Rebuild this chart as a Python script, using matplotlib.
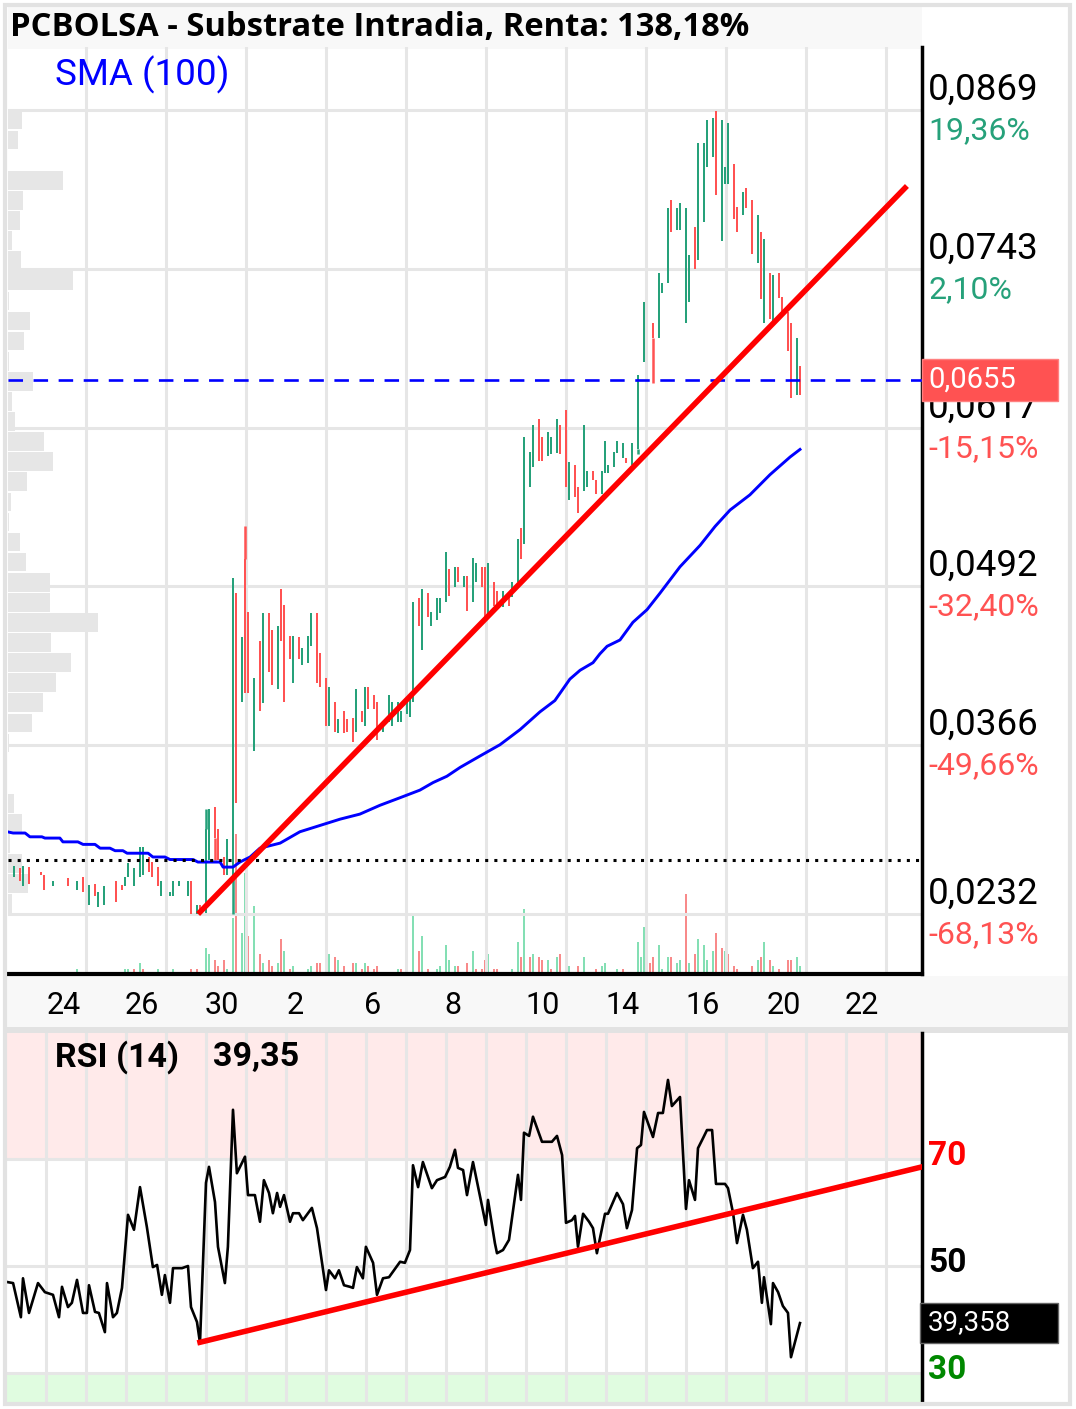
import numpy as np
import matplotlib.pyplot as plt
from matplotlib.patches import Rectangle
from matplotlib.transforms import IdentityTransform

plt.rcParams['font.family'] = ['Roboto', 'DejaVu Sans']

# ---- candles (slot = intraday bar number) ----
cs = [0, 2, 3, 5, 9, 10, 13, 18, 21, 23,
      25, 27, 28, 30, 34, 36, 37, 38, 40, 42,
      43, 45, 46, 48, 49, 52, 53, 55, 58, 59,
      61, 62, 64, 65, 67, 68, 70, 71, 73, 74,
      76, 77, 78, 80, 82, 83, 85, 86, 88, 89,
      90, 92, 93, 95, 96, 98, 99, 101, 102, 104,
      105, 107, 108, 110, 111, 113, 114, 116, 117, 118,
      120, 121, 123, 125, 126, 128, 129, 131, 132, 133,
      135, 136, 138, 139, 141, 142, 144, 145, 147, 148,
      150, 151, 153, 154, 156, 157, 158, 160, 161, 163,
      165, 166, 168, 169, 170, 172, 173, 175, 176, 178,
      179, 181, 182, 184, 185, 187, 188, 190, 191, 193,
      194, 196, 197, 198, 200, 201, 203, 204, 206, 208,
      210, 213, 215, 216, 218, 219, 221, 222, 224, 225,
      227, 228, 230, 231, 233, 234, 236, 237, 238, 240,
      241, 243, 244, 246, 248, 249, 250, 252, 253, 255,
      256, 258, 259, 261, 262]
co = [.0261, .0268, .0254, .0269, .0265, .0263, .0254, .0260, .0251, .0261,
      .0239, .0256, .0237, .0239, .0258, .0255, .0254, .0261, .0254, .0261,
      .0263, .0277, .0273, .0269, .0246, .0246, .0246, .0254, .0246, .0258,
      .0232, .0239, .0233, .0275, .0317, .0299, .0277, .0263, .0260, .0486,
      .0400, .0513, .0471, .0361, .0448, .0399, .0470, .0457, .0410, .0489,
      .0477, .0452, .0415, .0451, .0429, .0431, .0444, .0470, .0439, .0419,
      .0381, .0400, .0375, .0393, .0386, .0387, .0376, .0393, .0381, .0412,
      .0405, .0400, .0376, .0384, .0381, .0384, .0384, .0390, .0388, .0400,
      .0482, .0441, .0486, .0460, .0465, .0470, .0479, .0505, .0491, .0507,
      .0491, .0500, .0479, .0495, .0507, .0507, .0469, .0495, .0488, .0475,
      .0486, .0483, .0495, .0538, .0525, .0570, .0586, .0624, .0610, .0595,
      .0596, .0597, .0619, .0631, .0560, .0588, .0570, .0567, .0570, .0583,
      .0576, .0565, .0581, .0581, .0586, .0597, .0593, .0593, .0588, .0600,
      .0669, .0700, .0688, .0724, .0732, .0798, .0774, .0774, .0700, .0717,
      .0776, .0750, .0780, .0824, .0832, .0868, .0765, .0810, .0810, .0826,
      .0792, .0786, .0807, .0798, .0748, .0772, .0700, .0740, .0700, .0740,
      .0721, .0709, .0700, .0643, .0666]
cc = [.0270, .0258, .0270, .0256, .0263, .0251, .0258, .0254, .0258, .0249,
      .0255, .0246, .0249, .0254, .0241, .0251, .0261, .0272, .0268, .0285,
      .0285, .0265, .0261, .0254, .0258, .0249, .0258, .0258, .0258, .0232,
      .0239, .0232, .0299, .0315, .0292, .0275, .0263, .0291, .0498, .0320,
      .0451, .0407, .0407, .0419, .0393, .0470, .0424, .0413, .0460, .0448,
      .0400, .0434, .0452, .0434, .0443, .0452, .0470, .0415, .0412, .0381,
      .0412, .0376, .0386, .0375, .0376, .0368, .0410, .0384, .0412, .0394,
      .0394, .0370, .0380, .0405, .0400, .0400, .0393, .0400, .0405, .0479,
      .0460, .0489, .0467, .0471, .0482, .0482, .0519, .0484, .0507, .0495,
      .0500, .0472, .0514, .0510, .0491, .0467, .0510, .0476, .0476, .0488,
      .0476, .0495, .0529, .0513, .0610, .0598, .0619, .0591, .0591, .0614,
      .0610, .0624, .0596, .0570, .0590, .0562, .0550, .0619, .0583, .0576,
      .0565, .0583, .0607, .0588, .0598, .0607, .0605, .0589, .0605, .0659,
      .0717, .0688, .0740, .0732, .0791, .0772, .0791, .0795, .0791, .0754,
      .0743, .0843, .0843, .0861, .0863, .0802, .0861, .0824, .0859, .0783,
      .0772, .0804, .0791, .0755, .0786, .0719, .0767, .0703, .0738, .0720,
      .0708, .0678, .0641, .0688, .0643]
wick_hi = {64: .0315, 77: .0539}
wick_lo = {67: .0275, 73: .0232, 208: .0596, 213: .0653}

# ---- volume ----
vol_t = [21, 37, 38, 40, 42, 43, 48, 53, 59, 61,
         64, 65, 67, 68, 70, 71, 73, 74, 76, 77,
         78, 80, 82, 83, 85, 86, 88, 89, 90, 92,
         93, 98, 99, 101, 102, 104, 105, 107, 108, 110,
         113, 114, 116, 117, 118, 120, 121, 128, 129, 131,
         133, 135, 136, 138, 141, 142, 144, 145, 147, 148,
         151, 153, 154, 156, 157, 158, 160, 161, 166, 168,
         169, 170, 172, 173, 175, 176, 178, 179, 181, 182,
         184, 185, 188, 190, 194, 196, 197, 201, 203, 208,
         209, 210, 212, 213, 215, 216, 218, 219, 221, 222,
         224, 225, 227, 228, 230, 231, 233, 234, 236, 237,
         238, 240, 241, 246, 248, 249, 250, 252, 253, 255,
         258, 259, 261, 262]
vol_v = [5, 5, 5, 5, 11, 5, 5, 5, 5, 5,
         26, 20, 14, 8, 14, 5, 56, 140, 41, 101,
         38, 68, 20, 11, 14, 8, 11, 35, 23, 5,
         8, 5, 8, 11, 11, 20, 20, 17, 14, 8,
         11, 11, 5, 11, 8, 5, 8, 5, 5, 5,
         59, 23, 38, 5, 5, 8, 29, 14, 8, 8,
         11, 23, 5, 5, 14, 20, 5, 5, 5, 32,
         17, 65, 17, 20, 17, 14, 14, 5, 17, 20,
         35, 8, 8, 17, 5, 8, 11, 5, 5, 32,
         17, 47, 11, 17, 29, 5, 17, 17, 11, 14,
         80, 11, 20, 35, 29, 14, 23, 41, 26, 23,
         20, 8, 5, 8, 14, 17, 32, 14, 8, 5,
         14, 14, 17, 8]
vol_up = [1, 1, 1, 0, 1, 0, 1, 1, 0, 0,
          1, 1, 0, 0, 0, 1, 1, 0, 1, 1,
          0, 1, 0, 1, 0, 0, 1, 0, 1, 0,
          1, 1, 1, 0, 0, 0, 1, 0, 1, 0,
          0, 1, 0, 1, 0, 0, 0, 1, 0, 1,
          1, 0, 1, 0, 1, 1, 1, 1, 1, 0,
          0, 1, 0, 0, 0, 1, 0, 0, 1, 1,
          0, 1, 0, 1, 0, 0, 1, 0, 1, 0,
          0, 1, 0, 1, 0, 1, 1, 1, 0, 1,
          1, 1, 0, 0, 1, 1, 1, 0, 1, 1,
          0, 1, 0, 1, 1, 1, 1, 0, 0, 1,
          0, 0, 0, 0, 1, 0, 1, 0, 1, 0,
          0, 0, 1, 1]

# ---- volume profile (40 price bins from top 0.0869 to bottom 0.0232) ----
prof_top, prof_bottom = 0.0869, 0.0232
prof_vol = [14, 10, 0, 55, 15, 12, 4, 13, 65, 1,
            22, 16, 1, 25, 4, 7, 36, 45, 19, 3,
            1, 12, 18, 42, 42, 90, 43, 63, 48, 35,
            24, 1, 0, 0, 6, 14, 2, 14, 20, 4]

# ---- SMA(100) ----
sma_t = [-2.3, -0.3, 3.7, 5.3, 9.3, 10.3, 15.3, 16.3, 21.3, 23, 27, 28.7, 32, 33.7, 36.3,
         37.7, 44.7, 46.3, 50.3, 52, 59.7, 61.3, 68.7, 69.7, 73, 75.3, 78.7, 82, 88.7,
         95.3, 102, 108.7, 115.3, 122, 128.7, 135.3, 139.7, 144.3, 148.7, 155.3, 162,
         168.7, 175.3, 180.3, 185.3, 188.7, 193, 195.3, 197.7, 202, 206.3, 211, 215.3,
         222, 228.7, 233.7, 238.7, 245.3, 252, 258.7, 262]
sma_v = [.0297, .0296, .0296, .0293, .0293, .0292, .0292, .0289, .0289, .0287, .0287,
         .0284, .0284, .0282, .0282, .0280, .0280, .0277, .0277, .0275, .0275, .0273,
         .0273, .0269, .0269, .0273, .0277, .0284, .0288, .0297, .0302, .0307, .0311,
         .0318, .0324, .0330, .0336, .0341, .0348, .0357, .0366, .0378, .0392, .0401,
         .0418, .0425, .0431, .0438, .0444, .0449, .0463, .0473, .0486, .0507, .0524,
         .0539, .0552, .0564, .0580, .0594, .0600]

# ---- RSI(14) ----
rsi_t = [-2.3, -0.3, 2.3, 3, 5, 8, 10.3, 13, 15, 16, 18, 19.3, 21, 23, 24.3, 25, 27,
         28.3, 30.3, 31, 33, 34.3, 36, 38, 40, 42, 44.3, 46.3, 47.7, 49.3, 50.3, 52, 53,
         56, 58, 59, 61, 62, 64, 65, 67, 68, 70.3, 71.3, 73, 74.3, 77, 78, 80.3, 82,
         83.3, 85, 86.3, 87.7, 88.7, 90, 92, 93, 95, 96.3, 99.3, 101, 104, 105, 107,
         108.3, 110, 112, 113, 114.3, 116.3, 117.3, 119.7, 121, 123, 125, 128.7, 130.3,
         132, 133, 134.7, 136.3, 139.3, 141, 143.7, 145.3, 147, 148, 149.7, 151, 153,
         157.3, 158, 160.3, 161, 163, 165, 168, 169, 170, 171.7, 173, 176, 179.3, 181,
         182.7, 184, 186, 187, 188, 189.7, 191.7, 193, 194.3, 197, 198, 201, 203, 204.3,
         206, 207.7, 209, 210, 213, 214.7, 216.3, 218, 219.3, 222, 224, 225, 227, 228,
         229.7, 231, 232.7, 234, 237, 238, 239.7, 241, 243, 244.3, 246.3, 248, 249.3,
         250, 252.3, 253, 254.7, 256.3, 258, 259, 262]
rsi_v = [47.0, 46.8, 40.4, 47.7, 41.2, 46.8, 45.1, 44.6, 40.4, 46.1, 42.3, 43.1, 47.4,
         41.2, 41.2, 46.4, 41.4, 41.2, 37.6, 46.8, 40.4, 41.2, 45.9, 59.6, 56.8, 64.8,
         57.3, 49.8, 50.2, 44.6, 48.3, 43.1, 49.6, 49.6, 50.0, 42.3, 39.5, 35.6, 65.6,
         68.6, 62.0, 53.6, 46.8, 53.6, 79.3, 67.4, 70.5, 63.3, 63.3, 58.3, 66.1, 63.7,
         59.9, 63.7, 61.1, 63.3, 58.3, 59.9, 59.9, 58.6, 60.9, 57.1, 45.5, 49.2, 47.7,
         49.2, 46.4, 46.1, 45.9, 49.8, 47.7, 53.6, 50.6, 44.6, 47.7, 47.9, 50.8, 50.6,
         53.0, 68.9, 64.8, 69.5, 64.6, 66.1, 66.7, 68.6, 71.8, 68.4, 68.0, 63.3, 69.5,
         57.7, 62.4, 54.3, 52.4, 53.0, 54.9, 67.1, 62.4, 75.0, 74.4, 78.0, 73.3, 73.3,
         74.4, 70.8, 58.1, 58.6, 59.4, 53.6, 59.8, 58.3, 57.1, 52.4, 59.8, 59.8, 63.7,
         61.6, 57.1, 60.5, 72.1, 72.7, 78.9, 74.2, 78.7, 78.7, 84.9, 80.0, 81.7, 60.7,
         66.1, 62.4, 72.1, 74.0, 75.5, 75.5, 65.4, 65.4, 64.6, 59.9, 54.3, 59.6, 56.8,
         49.6, 50.8, 43.1, 47.9, 39.1, 46.8, 45.1, 42.5, 41.2, 32.9, 39.3]
rsi_last = 39.358

# ---- drawn lines / levels ----
trend_t, trend_p = [62, 297], [0.02334, 0.08072]
rsi_trend_t, rsi_trend_v = [62, 302.7], [35.7, 68.6]
last_price = 0.0655
support = 0.02746

price_ticks = [0.0869, 0.0743, 0.0617, 0.0492, 0.0366, 0.0232]
pct_labels = ['19,36%', '2,10%', '-15,15%', '-32,40%', '-49,66%', '-68,13%']
day_ticks = [16.7, 42.7, 69.3, 93.7, 119.7, 146.3, 176.3, 202.7, 229.7, 256.7, 282.7]
day_labels = ['24', '26', '30', '2', '6', '8', '10', '14', '16', '20', '22']

GREEN, RED = '#26a17a', '#ff5252'
VGREEN, VRED = '#84dfb4', '#f88a8a'
GRID = '#e6e6e6'

W, H = 1076, 1409
fig = plt.figure(figsize=(W / 100, H / 100), dpi=100)


def box(x0, y0, x1, y1):
    return [x0 / W, 1 - y1 / H, (x1 - x0) / W, (y1 - y0) / H]


def rect(x0, y0, x1, y1, **kw):
    fig.add_artist(Rectangle((x0 / W, 1 - y1 / H), (x1 - x0) / W, (y1 - y0) / H,
                             transform=fig.transFigure, **kw))


XL = (-2, 302.67)
YL = (0.018428, 0.091893)

# frame and bands (under the axes)
rect(8, 6, 922, 49, fc='#f8f8f8', ec='none', zorder=-2)
rect(6, 976, 1068, 1027, fc='#f8f8f8', ec='none', zorder=-2)
rect(6, 1027, 1068, 1033, fc='#e2e2e2', ec='none', zorder=-2)

# profile (back layer)
axp = fig.add_axes(box(8, 49, 922, 974), zorder=0)
axp.patch.set_visible(False)
edges = np.linspace(prof_top, prof_bottom, len(prof_vol) + 1)
centers = (edges[:-1] + edges[1:]) / 2
step = edges[0] - edges[1]
axp.barh(centers, prof_vol, height=step * 0.93, left=0, color='#e6e6e6', lw=0)
axp.set_xlim(0, 914)
axp.set_ylim(0.018428, 0.091893 - 2 * 0.00007925)
axp.axis('off')

# volume layer
axv = fig.add_axes(box(8, 47, 922, 974), zorder=1)
axv.patch.set_visible(False)
vcol = [VGREEN if u else VRED for u in vol_up]
axv.bar(vol_t, vol_v, width=0.85, color=vcol, lw=0)
axv.set_xlim(*XL)
axv.set_ylim(0, 927)
axv.axis('off')

# main price layer
ax = fig.add_axes(box(8, 47, 922, 974), zorder=2)
ax.patch.set_visible(False)
ax.set_xlim(*XL)
ax.set_ylim(*YL)
ax.set_xticks(np.arange(24, 303, 80 / 3))
ax.set_yticks(price_ticks)
ax.grid(True, color=GRID, lw=2.2, zorder=0)
ax.set_axisbelow(True)
ax.tick_params(length=0, labelleft=False, labelbottom=False)
for s in ['left', 'top']:
    ax.spines[s].set_visible(False)
ax.spines['right'].set_linewidth(2.5)
ax.spines['bottom'].set_linewidth(3)

co_a, cc_a = np.array(co), np.array(cc)
up = cc_a >= co_a
bottoms = np.minimum(co_a, cc_a)
heights = np.maximum(np.abs(cc_a - co_a), 0.00012)
ax.bar(cs, heights, bottom=bottoms, width=0.9,
       color=[GREEN if u else RED for u in up], lw=0, zorder=3)
for t, v in wick_hi.items():
    i = cs.index(t)
    ax.vlines(t, max(co[i], cc[i]), v, color=GREEN if up[i] else RED, lw=1.8, zorder=3)
for t, v in wick_lo.items():
    i = cs.index(t)
    ax.vlines(t, v, min(co[i], cc[i]), color=GREEN if up[i] else RED, lw=1.8, zorder=3)

ax.plot(sma_t, sma_v, color='#0000ff', lw=2.1, zorder=4)
ax.axhline(last_price, color='#0000ff', lw=1.9, dashes=(5.5, 4), zorder=4)
ax.axhline(support, color='black', lw=2.2, dashes=(1, 2), zorder=4)
ax.plot(trend_t, trend_p, color='#ff0000', lw=4, zorder=5, clip_on=False)

for v, pc in zip(price_ticks, pct_labels):
    ax.annotate(f'{v:.4f}'.replace('.', ','), xy=(1, v), xycoords=('axes fraction', 'data'),
                xytext=(6, 20), textcoords='offset pixels', va='center', ha='left',
                fontsize=26.5, annotation_clip=False)
    ax.annotate(pc, xy=(1, v), xycoords=('axes fraction', 'data'),
                xytext=(6, -21), textcoords='offset pixels', va='center', ha='left',
                fontsize=23, color=GREEN if not pc.startswith('-') else RED,
                annotation_clip=False)
for t, lab in zip(day_ticks, day_labels):
    ax.annotate(lab, xy=(t, 0), xycoords=('data', 'axes fraction'), xytext=(0, -31),
                textcoords='offset pixels', ha='center', va='center', fontsize=22,
                annotation_clip=False)

# RSI panel
axr = fig.add_axes(box(7, 1033, 922, 1402), zorder=2)
axr.set_xlim(-2.33, 302.67)
axr.set_ylim(24.5, 93.7)
axr.axhspan(70, 93.7, color='#ffeaea', lw=0, zorder=0)
axr.axhspan(24.5, 30, color='#e0fce0', lw=0, zorder=0)
axr.set_xticks(np.arange(-2.67 + 40 / 3, 303, 40 / 3))
axr.set_yticks([30, 50, 70])
axr.grid(True, color=GRID, lw=2.2, zorder=1)
axr.set_axisbelow(True)
axr.tick_params(length=0, labelleft=False, labelbottom=False)
for s in ['left', 'top', 'bottom']:
    axr.spines[s].set_visible(False)
axr.spines['right'].set_linewidth(2.5)
axr.plot(rsi_t, rsi_v, color='black', lw=1.9, zorder=3)
axr.plot(rsi_trend_t, rsi_trend_v, color='#ff0000', lw=4, zorder=4)
for v, c in [(70, '#ff0000'), (50, 'black'), (30, '#008800')]:
    axr.annotate(str(v), xy=(1, v), xycoords=('axes fraction', 'data'), xytext=(6, 3),
                 textcoords='offset pixels', va='center', ha='left', fontsize=24,
                 fontweight='bold', color=c, annotation_clip=False)

rect(5, 5, 1070, 1404, fill=False, ec='#e2e2e2', lw=3, zorder=10)

fig.text(10 / W, 1 - 28 / H, 'PCBOLSA - Substrate Intradia, Renta: 138,18%',
         family=['Open Sans', 'DejaVu Sans'], fontweight='bold', fontsize=23.6,
         va='center', ha='left', zorder=11)
fig.text(55 / W, 1 - 75 / H, 'SMA (100)', color='#0000ff', fontsize=26.5,
         va='center', ha='left', zorder=11)
fig.text(55 / W, 1 - 1057 / H, 'RSI (14)', fontsize=24.5, fontweight='bold',
         va='center', ha='left', zorder=11)
rsi_short = np.floor(rsi_last * 100) / 100
fig.text(213 / W, 1 - 1057 / H, f'{rsi_short:.2f}'.replace('.', ','), fontsize=24.5,
         fontweight='bold', va='center', ha='left', zorder=11)

# value tags on the right axis
fig.canvas.draw()
y_tag = ax.transData.transform((0, last_price))[1]
fig.add_artist(Rectangle((922, y_tag - 21), 136, 42, transform=IdentityTransform(),
                         fc=RED, ec='#ff8080', lw=1, zorder=12))
fig.text(928, y_tag, f'{last_price:.4f}'.replace('.', ','), transform=IdentityTransform(),
         color='white', fontsize=21, va='center', ha='left', zorder=13)
y_rsi = axr.transData.transform((0, rsi_last))[1]
fig.add_artist(Rectangle((920, y_rsi - 20), 138, 40, transform=IdentityTransform(),
                         fc='black', ec='#666666', lw=1, zorder=12))
fig.text(928, y_rsi, f'{rsi_last:.3f}'.replace('.', ','), transform=IdentityTransform(),
         color='white', fontsize=20, va='center', ha='left', zorder=13)

fig.savefig('out.png', dpi=100)
